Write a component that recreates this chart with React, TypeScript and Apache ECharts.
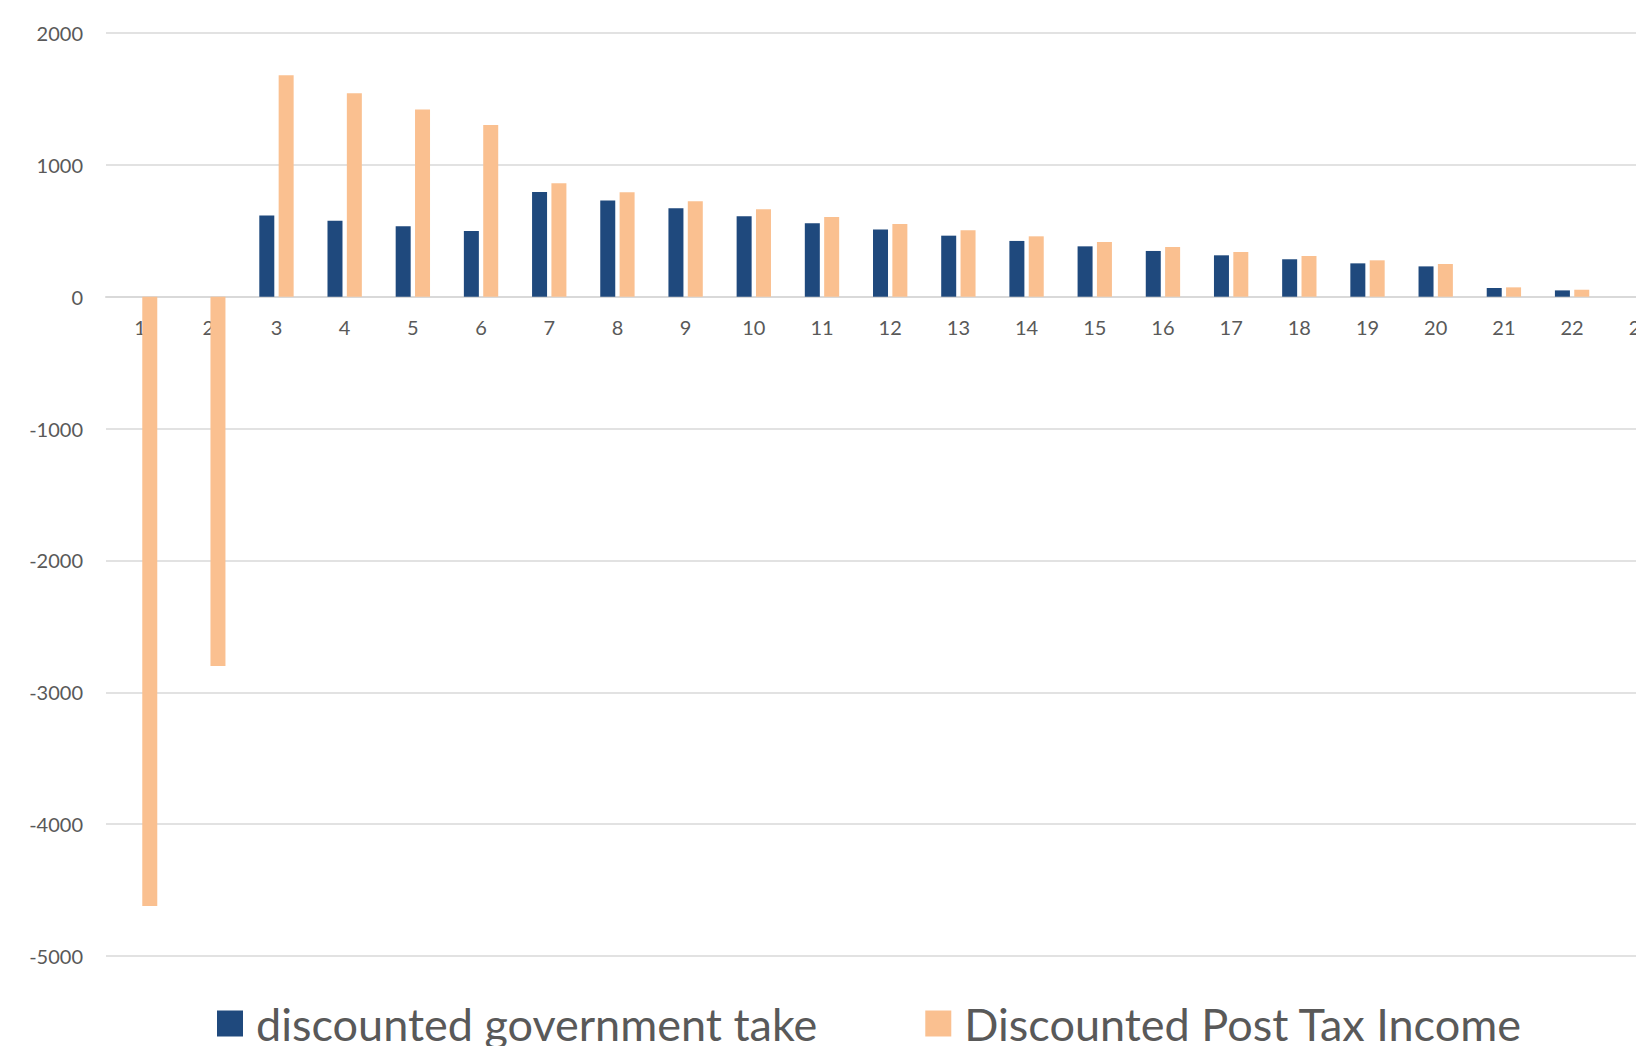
import React, { useEffect, useRef } from "react";
import * as echarts from "echarts";

const categories = ["1","2","3","4","5","6","7","8","9","10","11","12","13","14","15","16","17","18","19","20","21","22","23"];
const governmentTake = [0, 0, 615, 577, 534, 498, 794, 729, 670, 610, 557, 509, 463, 423, 382, 347, 314, 284, 253, 230, 66, 48, null];
const postTaxIncome = [-4620, -2800, 1680, 1543, 1419, 1303, 860, 792, 724, 663, 605, 552, 504, 458, 415, 377, 339, 309, 276, 248, 71, 53, null];
const seriesNames = ["discounted government take", "Discounted Post Tax Income"];

export default function App() {
  const ref = useRef<HTMLDivElement>(null);
  useEffect(() => {
    if (!ref.current) return;
    const chart = echarts.init(ref.current, null, { renderer: "svg" });
    chart.setOption({
      animation: false,
      backgroundColor: "#ffffff",
      grid: { left: 106, top: 33, width: 23 * 68.19, height: 923, containLabel: false },
      legend: {
        left: 212,
        top: 996,
        itemWidth: 26,
        itemHeight: 26,
        itemGap: 108,
        icon: "rect",
        textStyle: { fontFamily: "Lato", fontSize: 45, color: "#595959", lineHeight: 26, padding: [0, 0, 0, 8] },
        data: seriesNames,
      },
      xAxis: {
        type: "category",
        data: categories,
        offset: -659.3,
        axisLine: { onZero: false, lineStyle: { color: "#d9d9d9", width: 2 } },
        axisTick: { show: false },
        axisLabel: { fontFamily: "Lato", fontSize: 20, color: "#595959", margin: 20, interval: 0 },
        splitLine: { show: false },
      },
      yAxis: {
        type: "value",
        min: -5000,
        max: 2000,
        interval: 1000,
        axisLine: { show: false },
        axisTick: { show: false },
        axisLabel: { fontFamily: "Lato", fontSize: 20, color: "#595959", margin: 23, formatter: (v: number) => String(v) },
        splitLine: { lineStyle: { color: "#d9d9d9", width: 1.5 } },
      },
      series: [
        {
          name: seriesNames[0],
          type: "bar",
          data: governmentTake,
          barWidth: 15,
          barGap: "29%",
          itemStyle: { color: "#1f497d" },
        },
        {
          name: seriesNames[1],
          type: "bar",
          data: postTaxIncome,
          barWidth: 15,
          itemStyle: { color: "#fac090" },
        },
      ],
    });
    return () => chart.dispose();
  }, []);
  return (
    <div style={{ position: "fixed", left: 0, top: 0, width: "100vw", height: "100vh", overflow: "hidden", background: "#fff" }}>
      <div ref={ref} style={{ width: 1760, height: 1100 }} />
    </div>
  );
}
